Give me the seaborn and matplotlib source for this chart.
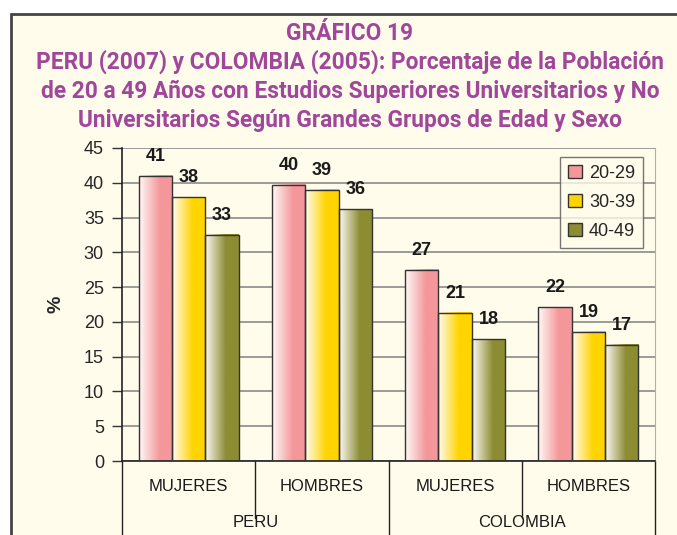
import numpy as np
import pandas as pd
import matplotlib
matplotlib.use("Agg")
import matplotlib.pyplot as plt
import seaborn as sns
from matplotlib.patches import Patch
from matplotlib.colors import to_rgb

# data
paises = ["PERU", "PERU", "COLOMBIA", "COLOMBIA"]
sexos = ["MUJERES", "HOMBRES", "MUJERES", "HOMBRES"]
edades = ["20-29", "30-39", "40-49"]
val_20_29 = [41.0, 39.7, 27.5, 22.1]
val_30_39 = [37.9, 39.0, 21.3, 18.6]
val_40_49 = [32.5, 36.2, 17.5, 16.7]
etq_20_29 = ["41", "40", "27", "22"]
etq_30_39 = ["38", "39", "21", "19"]
etq_40_49 = ["33", "36", "18", "17"]

colores = {"20-29": "#F4979A", "30-39": "#FFD400", "40-49": "#8C8C32"}
fondo = "#FFFCEB"
morado = "#A0479B"

grupos = [f"{p} {s}" for p, s in zip(paises, sexos)]
filas = []
for edad, vals, etqs in zip(edades, [val_20_29, val_30_39, val_40_49],
                            [etq_20_29, etq_30_39, etq_40_49]):
    for g, v, e in zip(grupos, vals, etqs):
        filas.append({"grupo": g, "edad": edad, "valor": v, "etiqueta": e})
df = pd.DataFrame(filas)

sns.set_style("white")
plt.rcParams["font.family"] = ["Liberation Sans", "DejaVu Sans"]

fig = plt.figure(figsize=(6.77, 5.35), dpi=100)
fig.patch.set_facecolor("white")

# outer frame (runs off the right and bottom edges)
marco = plt.Rectangle((11 / 677, -0.1), 1.2, (535 - 14) / 535 + 0.1,
                      transform=fig.transFigure, facecolor=fondo,
                      edgecolor="#444444", linewidth=2, zorder=-5)
fig.patches.append(marco)

ax = fig.add_axes([122 / 677, (535 - 461) / 535, (655 - 122) / 677, (461 - 148) / 535])
ax.set_zorder(2)
ax.set_facecolor(fondo)

sns.barplot(data=df, x="grupo", y="valor", hue="edad", order=grupos,
            hue_order=edades, palette=colores, saturation=1, width=0.75,
            edgecolor="#333333", linewidth=1, legend=False, ax=ax, zorder=3)

# horizontal gradient inside every bar
barras = [p for p in ax.patches if p.get_height() > 0]
for p in barras:
    x0, y0 = p.get_x(), p.get_y()
    w, h = p.get_width(), p.get_height()
    c = np.array(to_rgb(p.get_facecolor()))
    t = np.clip(np.linspace(0, 1, 64) / 0.62, 0, 1)
    blanco = np.array([1.0, 0.99, 0.98])
    grad = (blanco[None, :] * (1 - t[:, None]) * 0.97 + c[None, :] * (t[:, None] * 0.97 + 0.03))
    ax.imshow(grad[None, :, :], extent=(x0, x0 + w, y0, y0 + h), aspect="auto",
              zorder=2.5, interpolation="bilinear")
    p.set_facecolor("none")

ax.set_xlim(-0.5, 3.5)
ax.set_ylim(0, 45)
ax.set_yticks(range(0, 46, 5))
ax.tick_params(axis="y", labelsize=13, length=7, width=1, color="#333333", pad=6,
               left=True)
ax.set_xticks([])
ax.set_xlabel("")
ax.set_ylabel("%", fontsize=14, fontweight="bold", labelpad=14)
ax.grid(axis="y", color="#8a8a8a", linewidth=1.2, zorder=0)
ax.set_axisbelow(True)
ax.spines["top"].set_visible(False)
ax.spines["right"].set_color("#b0b0b0")
ax.spines["left"].set_color("#222222")
ax.spines["bottom"].set_color("#222222")
ax.spines["left"].set_linewidth(1.2)
ax.spines["bottom"].set_linewidth(1.2)

# value labels
for p, e in zip(barras, df["etiqueta"]):
    ax.annotate(e, (p.get_x() + p.get_width() / 2, p.get_height()),
                xytext=(0, 14), textcoords="offset points", ha="center",
                va="center", fontsize=13, fontweight="bold", color="#1a1a1a",
                zorder=5)

# two-level category axis
trans = ax.get_xaxis_transform()
for i, s in enumerate(sexos):
    ax.text(i, -0.08, s, transform=trans, ha="center", va="center", fontsize=12,
            color="#1a1a1a")
for xb in [-0.5, 0.5, 1.5, 2.5, 3.5]:
    fondo_y = -0.24 if xb in (-0.5, 1.5, 3.5) else -0.182
    ax.plot([xb, xb], [0, fondo_y], transform=trans, color="#222222",
            linewidth=1, clip_on=False)
for centro, pais in [(0.5, "PERU"), (2.5, "COLOMBIA")]:
    ax.text(centro, -0.195, pais, transform=trans, ha="center", va="center",
            fontsize=12, color="#1a1a1a")

# legend
manijas = [Patch(facecolor=colores[e], edgecolor="#333333", label=e) for e in edades]
leg = ax.legend(handles=manijas, loc="upper right", bbox_to_anchor=(0.995, 1.0),
                fontsize=13, frameon=True, fancybox=False, handlelength=0.75,
                handleheight=0.75, handletextpad=0.4, labelspacing=0.65,
                borderpad=0.45)
leg.get_frame().set_edgecolor("#555555")
leg.get_frame().set_facecolor(fondo)
leg.get_frame().set_linewidth(1)
leg.set_zorder(6)

# title, sized so the longest line spans about 630 px
lineas = ["GRÁFICO 19",
          "PERU (2007) y COLOMBIA (2005): Porcentaje de la Población",
          "de 20 a 49 Años con Estudios Superiores Universitarios y No",
          "Universitarios Según Grandes Grupos de Edad y Sexo"]
textos = []
for k, linea in enumerate(lineas):
    textos.append(fig.text(350 / 677, 1 - (33 + 29 * k) / 535, linea, ha="center",
                           va="center", fontsize=16, fontweight="bold",
                           color=morado, family=["Roboto", "DejaVu Sans"]))
fig.canvas.draw()
ancho = fig.canvas.get_renderer()
w2 = textos[1].get_window_extent(ancho).width
for t in textos:
    t.set_fontsize(16 * 630 / w2)

fig.savefig("out.png", dpi=100, facecolor="white")
